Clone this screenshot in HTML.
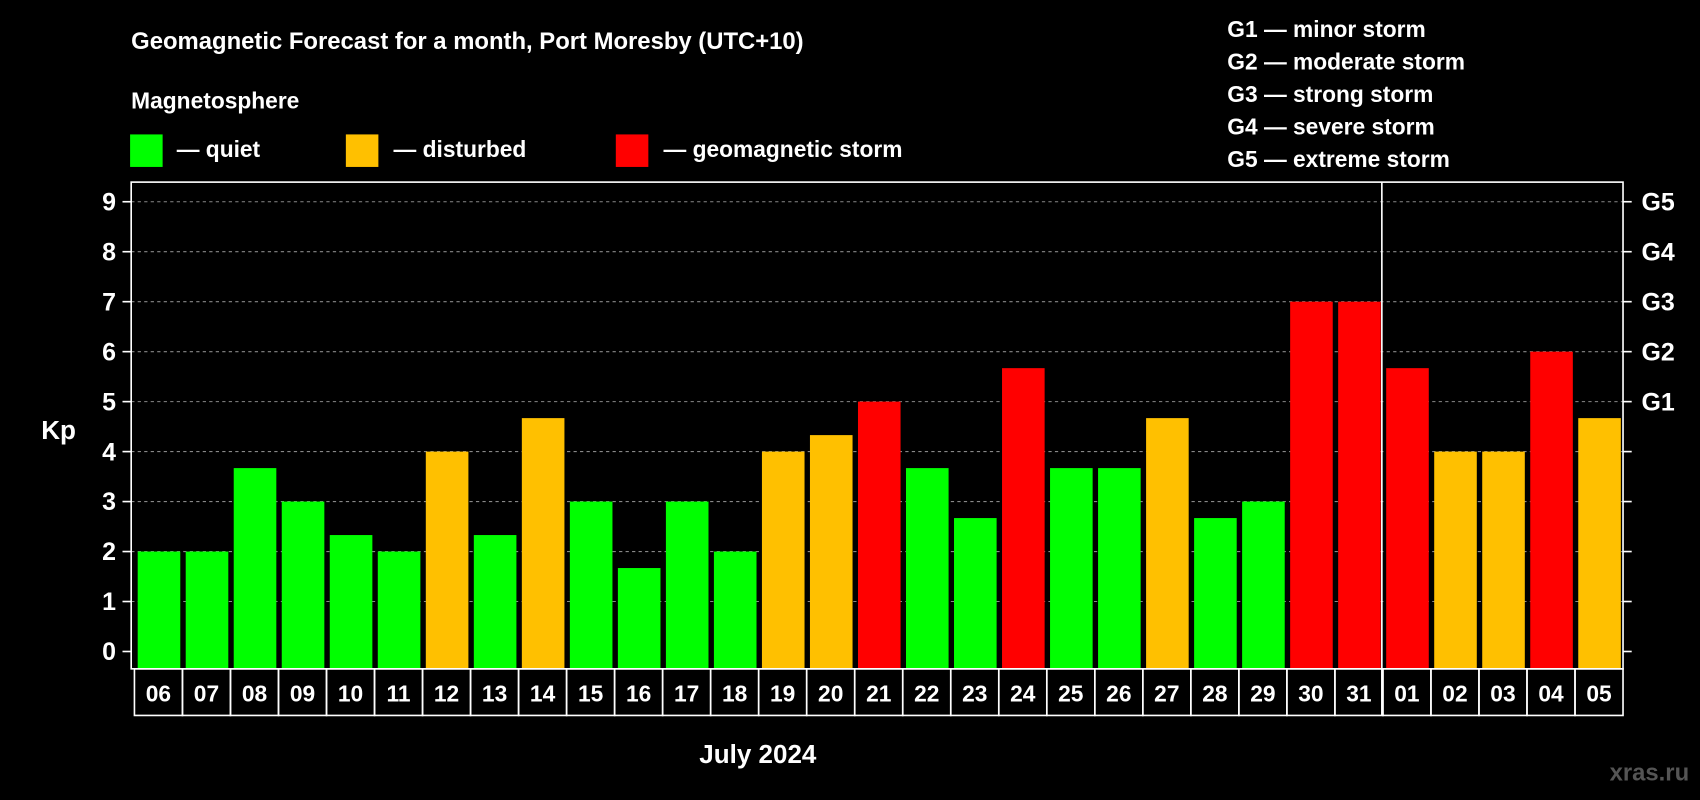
<!DOCTYPE html>
<html><head><meta charset="utf-8"><style>
html,body{margin:0;padding:0;background:#000;}
svg{display:block;font-family:"Liberation Sans",Arial,sans-serif;font-weight:bold;}
</style></head><body>
<svg id="chart" width="1700" height="800" viewBox="0 0 1568 738" preserveAspectRatio="none" xmlns="http://www.w3.org/2000/svg">
<rect width="1568" height="738" fill="#000"/>
<text x="121" y="45" fill="#fff" font-size="22">Geomagnetic Forecast for a month, Port Moresby (UTC+10)</text>
<text x="121" y="100" fill="#fff" font-size="21">Magnetosphere</text>
<g><rect x="120" y="124" width="30" height="30" fill="#00ff00"/><text x="163" y="145" fill="#fff" font-size="21">— quiet</text></g>
<g><rect x="319" y="124" width="30" height="30" fill="#ffc000"/><text x="363" y="145" fill="#fff" font-size="21">— disturbed</text></g>
<g><rect x="568" y="124" width="30" height="30" fill="#ff0000"/><text x="612" y="145" fill="#fff" font-size="21">— geomagnetic storm</text></g>
<g fill="#fff" font-size="21">
<text x="1132" y="34">G1 — minor storm</text>
<text x="1132" y="64">G2 — moderate storm</text>
<text x="1132" y="94">G3 — strong storm</text>
<text x="1132" y="124">G4 — severe storm</text>
<text x="1132" y="154">G5 — extreme storm</text>
</g>
<text x="38" y="405" fill="#fff" font-size="24">Kp</text>
<text x="699" y="704" fill="#fff" font-size="24" text-anchor="middle">July 2024</text>
<text x="1558" y="720" fill="#555" font-size="22" text-anchor="end">xras.ru</text>
<g id="grid"></g><g id="bars"></g><g id="axes"></g>
</svg>
<script>
const days=["06","07","08","09","10","11","12","13","14","15","16","17","18","19","20","21","22","23","24","25","26","27","28","29","30","31","01","02","03","04","05"];
const kp=[2,2,3.67,3,2.33,2,4,2.33,4.67,3,1.67,3,2,4,4.33,5,3.67,2.67,5.67,3.67,3.67,4.67,2.67,3,7,7,5.67,4,4,6,4.67];
const yTicks=[0,1,2,3,4,5,6,7,8,9];
const gLabels=["","","","","","G1","G2","G3","G4","G5"];
const NS="http://www.w3.org/2000/svg";
const L=121,R=1497,T=168,B=617,y0=601,yUnit=46.1;
const slotW=(R-3-L)/days.length;
const yS=v=>y0-v*yUnit;
const xS=i=>L+3+i*slotW;
function mk(t,a,p){const e=document.createElementNS(NS,t);for(const k in a)e.setAttribute(k,a[k]);p.appendChild(e);return e;}
const grid=document.getElementById('grid'),bars=document.getElementById('bars'),axes=document.getElementById('axes');
yTicks.forEach((v,i)=>{
 if(v>0){const g=mk('line',{x1:L,x2:R,y1:yS(v),y2:yS(v),stroke:'#888','stroke-dasharray':'3,3','stroke-width':1},grid);
 
 }
 mk('line',{x1:L-8,x2:L,y1:yS(v),y2:yS(v),stroke:'#fff','stroke-width':1.5},axes);
 mk('line',{x1:R,x2:R+8,y1:yS(v),y2:yS(v),stroke:'#fff','stroke-width':1.5},axes);
 const t=mk('text',{x:L-14,y:yS(v)+8,fill:'#fff','font-size':23,'text-anchor':'end'},axes);t.textContent=v;
 
 
 if(gLabels[i]){const g=mk('text',{x:R+17,y:yS(v)+8,fill:'#fff','font-size':23},axes);g.textContent=gLabels[i];
 
 }
});
kp.forEach((v,i)=>{
 const c=v>=5?'#ff0000':(v>=4?'#ffc000':'#00ff00');
 const r=mk('rect',{x:xS(i)+3,y:yS(v),width:slotW-5,height:B-yS(v),fill:c},bars);
 
 
 mk('rect',{x:xS(i),y:B,width:slotW,height:43,fill:'none',stroke:'#fff','stroke-width':1.5},axes);
 const t=mk('text',{x:xS(i)+slotW/2,y:B+30,fill:'#fff','font-size':21,'text-anchor':'middle'},axes);t.textContent=days[i];
 
 
});
mk('rect',{x:L,y:T,width:R-L,height:B-T,fill:'none',stroke:'#fff','stroke-width':1.5},axes);
const sep=days.indexOf('01');
mk('line',{x1:xS(sep)-1,x2:xS(sep)-1,y1:T,y2:B+43,stroke:'#fff','stroke-width':1.5},axes);
</script>
</body></html>
